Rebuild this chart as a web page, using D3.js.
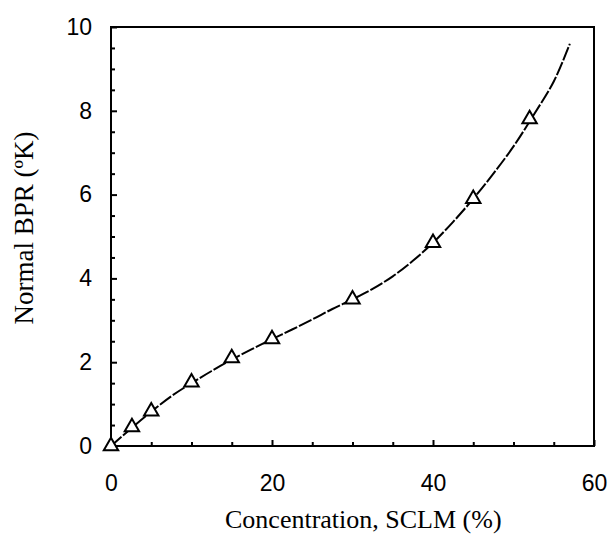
<!DOCTYPE html>
<html>
<head>
<meta charset="utf-8">
<script src="https://cdn.jsdelivr.net/npm/d3@7"></script>
<style>
  body { margin: 0; background: #fff; }
  .tick-lbl { font-family: "Liberation Sans", Arial, sans-serif; font-size: 23px; fill: #000; }
  .title { font-family: "Liberation Serif", "Times New Roman", serif; font-size: 26px; fill: #000; }
</style>
</head>
<body>
<div id="graph"></div>
<script>
"use strict";
// measured points (triangles)
const concPts = [0, 2.6, 5, 10, 15, 20, 30, 40, 45, 52];
const bprPts = [0, 0.45, 0.83, 1.52, 2.1, 2.55, 3.5, 4.85, 5.9, 7.8];
// fitted curve (dashed)
const concFit = [0, 2.5, 5, 7.5, 10, 12.5, 15, 17.5, 20, 22.5, 25, 27.5, 30, 32.5, 35, 37.5, 40, 42.5, 45, 47.5, 50, 52.5, 55, 57];
const bprFit = [0, 0.42, 0.82, 1.19, 1.5, 1.79, 2.06, 2.31, 2.55, 2.78, 3.02, 3.27, 3.5, 3.75, 4.05, 4.42, 4.85, 5.35, 5.9, 6.5, 7.15, 7.9, 8.7, 9.6];
const xTicks = [0, 20, 40, 60];
const yTicks = [0, 2, 4, 6, 8, 10];
const xLabel = "Concentration, SCLM (%)";
const yLabel = "Normal BPR (ºK)";

(function() {
    const W = 609, H = 536;
    const plot = { left: 111, top: 27, right: 594, bottom: 446 };

    const svg = d3.select("#graph").append("svg")
        .attr("width", W).attr("height", H);

    const x = d3.scaleLinear().domain([0, 60]).range([plot.left, plot.right]);
    const y = d3.scaleLinear().domain([0, 10]).range([plot.bottom, plot.top]);

    // frame
    svg.append("rect")
        .attr("x", plot.left).attr("y", plot.top)
        .attr("width", plot.right - plot.left).attr("height", plot.bottom - plot.top)
        .attr("fill", "none").attr("stroke", "#000").attr("stroke-width", 2);

    // minor ticks (inward)
    const xMinor = d3.range(0, 61, 5).filter(v => v % 20 !== 0);
    const yMinor = d3.range(0, 10.01, 0.5).filter(v => v % 2 !== 0);

    svg.append("g").attr("transform", "translate(0," + plot.bottom + ")")
        .call(d3.axisBottom(x).tickValues(xMinor).tickSize(-4).tickFormat(""))
        .call(g => g.select(".domain").remove())
        .selectAll("line").attr("stroke-width", 2);
    svg.append("g").attr("transform", "translate(" + plot.left + ",0)")
        .call(d3.axisLeft(y).tickValues(yMinor).tickSize(-4).tickFormat(""))
        .call(g => g.select(".domain").remove())
        .selectAll("line").attr("stroke-width", 2);

    // major ticks with labels
    const gx = svg.append("g").attr("transform", "translate(0," + plot.bottom + ")")
        .call(d3.axisBottom(x).tickValues(xTicks).tickSize(-6).tickPadding(29).tickFormat(d3.format("d")));
    gx.select(".domain").remove();
    gx.selectAll("line").attr("stroke-width", 2);
    gx.selectAll("text").attr("class", "tick-lbl").attr("font-size", null).attr("font-family", null);

    const gy = svg.append("g").attr("transform", "translate(" + plot.left + ",0)")
        .call(d3.axisLeft(y).tickValues(yTicks).tickSize(-6).tickPadding(19).tickFormat(d3.format("d")));
    gy.select(".domain").remove();
    gy.selectAll("line").attr("stroke-width", 2);
    gy.selectAll("text").attr("class", "tick-lbl").attr("font-size", null).attr("font-family", null);

    // fitted curve
    const line = d3.line()
        .x(d => x(d[0])).y(d => y(d[1]))
        .curve(d3.curveCatmullRom);
    svg.append("path")
        .datum(d3.zip(concFit, bprFit))
        .attr("d", line)
        .attr("fill", "none").attr("stroke", "#000")
        .attr("stroke-width", 2).attr("stroke-dasharray", "14,2");

    // triangles
    const tri = d3.symbol().type(d3.symbolTriangle).size(90);
    svg.append("g").selectAll("path")
        .data(d3.zip(concPts, bprPts))
        .join("path")
            .attr("d", tri)
            .attr("transform", d => "translate(" + x(d[0]) + "," + y(d[1]) + ")")
            .attr("fill", "#fff").attr("stroke", "#000").attr("stroke-width", 2);

    // axis titles
    svg.append("text").attr("class", "title")
        .attr("x", 225).attr("y", 528)
        .text(xLabel);
    svg.append("text").attr("class", "title")
        .attr("transform", "translate(33,228) rotate(-90)")
        .style("font-size", "27px")
        .attr("text-anchor", "middle").text(yLabel);
})();
</script>
</body>
</html>
